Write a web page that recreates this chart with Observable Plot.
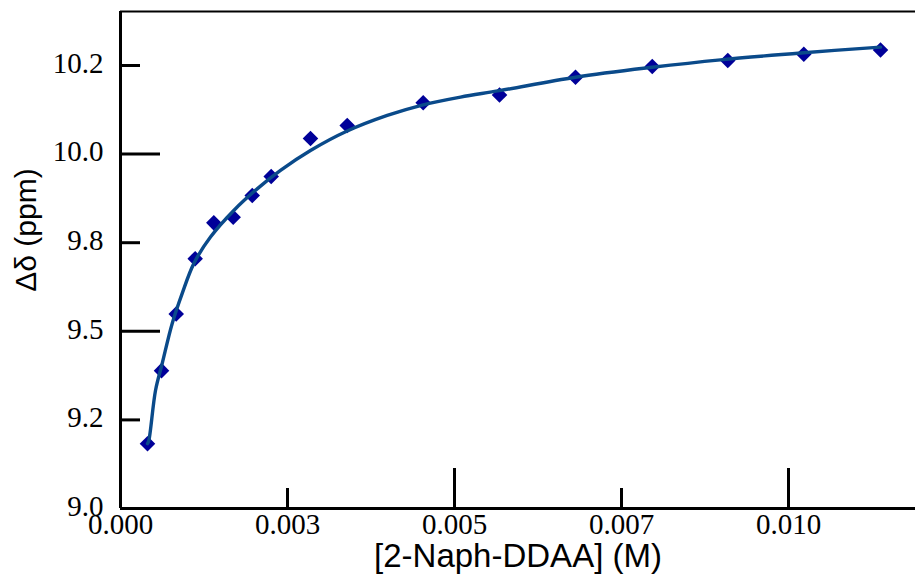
<!DOCTYPE html>
<html>
<head>
<meta charset="utf-8">
<script src="https://cdn.jsdelivr.net/npm/d3@7"></script>
<script src="https://cdn.jsdelivr.net/npm/@observablehq/plot@0.6"></script>
<style>
  html, body { margin: 0; padding: 0; background: #fff; }
</style>
</head>
<body>
<div id="chart"></div>
<script>
// Measured points
const concM = [0.000404, 0.000614, 0.000834, 0.001118, 0.001397, 0.001687, 0.001972, 0.002256, 0.002844, 0.003394, 0.004531, 0.005674, 0.006811, 0.00796, 0.009091, 0.010229, 0.011377];
const shiftPpm = [9.183, 9.389, 9.549, 9.705, 9.806, 9.822, 9.883, 9.937, 10.044, 10.081, 10.145, 10.167, 10.217, 10.247, 10.264, 10.282, 10.294];

// Fitted curve
const fitX = [0.000404, 0.000424, 0.000524, 0.000624, 0.000774, 0.000924, 0.001097, 0.001347, 0.001696, 0.002046, 0.002395, 0.002844, 0.003394, 0.003993, 0.004531, 0.00509, 0.005674, 0.006811, 0.00796, 0.008982, 0.010229, 0.011377];
const fitY = [9.183, 9.192, 9.333, 9.409, 9.522, 9.607, 9.691, 9.766, 9.841, 9.902, 9.954, 10.010, 10.065, 10.109, 10.139, 10.161, 10.179, 10.217, 10.245, 10.266, 10.286, 10.302];

// Axes
const xTicks = [0, 0.0025, 0.005, 0.0075, 0.01];
const xTickLabels = ["0.000", "0.003", "0.005", "0.007", "0.010"];
const xMajor = [0, 0.005, 0.01];
const xMinor = [0.0025, 0.0075];
const yTicks = [9.0, 9.25, 9.5, 9.75, 10.0, 10.25];
const yTickLabels = ["9.0", "9.2", "9.5", "9.8", "10.0", "10.2"];
const yMajor = [9.0, 9.5, 10.0];
const yMinor = [9.25, 9.75, 10.25];
const xDomain = [0, 0.011901];
const yDomain = [9.0, 10.4024];
const xTitle = "[2-Naph-DDAA] (M)";
const yTitle = "Δδ (ppm)";

const points = concM.map((x, i) => ({x, y: shiftPpm[i]}));
const fit = fitX.map((x, i) => ({x, y: fitY[i]}));

const W = 915, H = 579, mL = 120, mR = 0, mT = 11, mB = 71;
const innerW = W - mL - mR, innerH = H - mT - mB;
const sans = "'Liberation Sans', Arial, sans-serif";

const chart = Plot.plot({
  width: W,
  height: H,
  marginLeft: mL,
  marginRight: mR,
  marginTop: mT,
  marginBottom: mB,
  style: {fontFamily: "'Liberation Serif', 'Times New Roman', serif", fontSize: "29px", background: "#fff", color: "#000"},
  x: {domain: xDomain, axis: null},
  y: {domain: yDomain, axis: null},
  marks: [
    Plot.axisX({ticks: xTicks, tickFormat: d => xTickLabels[xTicks.indexOf(d)], tickSize: 0, tickPadding: 5, fontSize: 29, label: null}),
    Plot.axisY({ticks: yTicks, tickFormat: d => yTickLabels[yTicks.indexOf(d)], tickSize: 0, tickPadding: 17, fontSize: 29, dy: -2, label: null}),
    // inward ticks
    Plot.tickX(xMajor, {x: d => d, insetTop: innerH - 40, stroke: "#000", strokeWidth: 3}),
    Plot.tickX(xMinor, {x: d => d, insetTop: innerH - 20, stroke: "#000", strokeWidth: 3}),
    Plot.tickY(yMajor, {y: d => d, insetRight: innerW - 40, stroke: "#000", strokeWidth: 3}),
    Plot.tickY(yMinor, {y: d => d, insetRight: innerW - 20, stroke: "#000", strokeWidth: 3}),
    // axis lines and top border
    Plot.ruleY([yDomain[0]], {stroke: "#000", strokeWidth: 3}),
    Plot.ruleY([yDomain[1]], {stroke: "#000", strokeWidth: 2}),
    Plot.ruleX([xDomain[0]], {stroke: "#000", strokeWidth: 3}),
    // data
    Plot.dot(points, {x: "x", y: "y", symbol: "diamond2", r: 7, fill: "#000099", stroke: "none"}),
    Plot.line(fit, {x: "x", y: "y", curve: "catmull-rom", stroke: "#0a4a8a", strokeWidth: 3.4}),
    // titles
    Plot.text([xTitle], {frameAnchor: "bottom", textAnchor: "middle", lineAnchor: "middle", dy: 48, text: d => d, fontFamily: sans, fontSize: 33, fill: "#000"}),
    Plot.text([yTitle], {frameAnchor: "left", textAnchor: "middle", lineAnchor: "middle", rotate: -90, dx: -94, dy: -30, text: d => d, fontFamily: sans, fontSize: 30, fill: "#000"})
  ]
});
document.getElementById("chart").appendChild(chart);
</script>
</body>
</html>
